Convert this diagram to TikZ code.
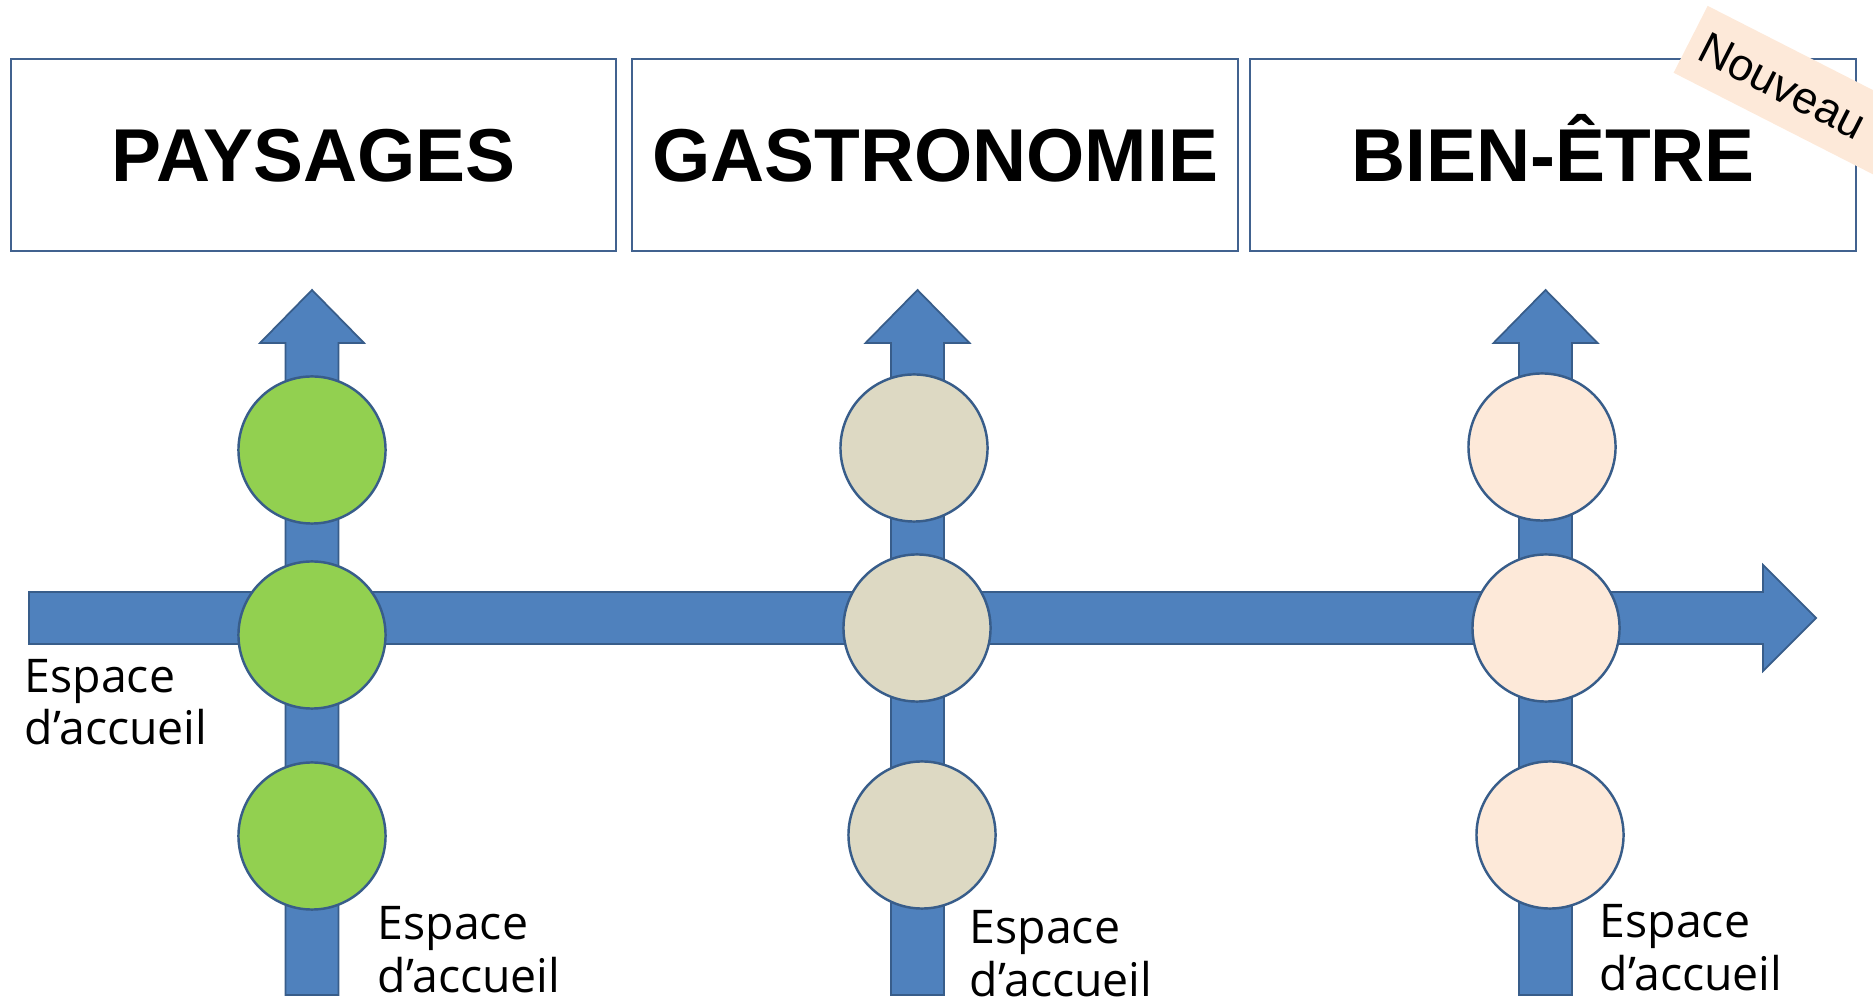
\documentclass[tikz,border=0pt]{standalone}
\usepackage{fontspec}
\usepackage{tikz}
\newfontfamily\titlefont{Liberation Sans}
\newfontfamily\labelfont{Open Sans}
\definecolor{arrowblue}{HTML}{4F81BD}
\definecolor{edgeblue}{HTML}{385D8A}
\definecolor{boxedge}{HTML}{41628F}
\definecolor{greendot}{HTML}{92D050}
\definecolor{beigedot}{HTML}{DDD9C3}
\definecolor{peachdot}{HTML}{FDE9D9}

\begin{document}
\begin{tikzpicture}[x=0.01cm,y=-0.01cm,
	themebox/.style={draw=boxedge,line width=0.6pt,minimum width=6.05cm,minimum height=1.92cm,inner sep=0pt,
		text height=15.3pt,text depth=0pt,font=\titlefont\bfseries\fontsize{21.3}{24}\selectfont},
	blockarrow/.style={fill=arrowblue,draw=edgeblue,line width=0.5pt},
	halte/.style={circle,draw=edgeblue,line width=0.7pt,minimum size=1.47cm,inner sep=0pt},
	accueil/.style={anchor=base west,align=left,inner sep=0pt,font=\labelfont\fontsize{13.2}{14.8}\selectfont}]
	\useasboundingbox (0,0) rectangle (1873,1001);
	\clip (0,0) rectangle (1873,1001);
	% les trois themes
	\node[themebox] (paysages) at (313.5,155) {PAYSAGES};
	\node[themebox] (gastro) at (935,155) {GASTRONOMIE};
	\node[themebox] (bienetre) at (1553,155) {BIEN-ÊTRE};
	\node[fill=peachdot,rotate=-27,anchor=west,minimum height=0.75cm,inner xsep=0.13cm,inner ysep=0pt,
		text width=2.8cm,align=left,font=\titlefont\fontsize{12.8}{14}\selectfont] (nouveau) at (1690,39) {Nouveau};
	% fleches verticales
	\foreach \x in {312,917.5,1545.5}
		\draw[blockarrow] (\x-26.5,995) -- (\x-26.5,343) -- (\x-52,343) -- (\x,290) -- (\x+52,343)
			-- (\x+26.5,343) -- (\x+26.5,995) -- cycle;
	% fleche horizontale
	\draw[blockarrow] (29,592) -- (1763,592) -- (1763,565) -- (1816,618) -- (1763,671) -- (1763,644) -- (29,644) -- cycle;
	% etapes
	\node[halte,fill=greendot] (p1) at (312,450) {};
	\node[halte,fill=greendot] (p2) at (312,635) {};
	\node[halte,fill=greendot] (p3) at (312,836) {};
	\node[halte,fill=beigedot] (g1) at (914,448) {};
	\node[halte,fill=beigedot] (g2) at (917,628) {};
	\node[halte,fill=beigedot] (g3) at (922,835) {};
	\node[halte,fill=peachdot] (b1) at (1542,447) {};
	\node[halte,fill=peachdot] (b2) at (1546,628) {};
	\node[halte,fill=peachdot] (b3) at (1550,835) {};
	% espaces d'accueil
	\node[accueil] (depart) at (24,745) {Espace\\d’accueil};
	\node[accueil] (accueilP) at (377,992) {Espace\\d’accueil};
	\node[accueil] (accueilG) at (969,996) {Espace\\d’accueil};
	\node[accueil] (accueilB) at (1599,990) {Espace\\d’accueil};
\end{tikzpicture}
\end{document}
